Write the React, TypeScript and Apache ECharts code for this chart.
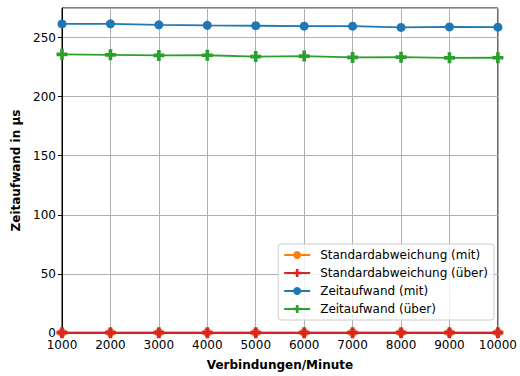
import React, { useEffect, useRef } from "react";
import * as echarts from "echarts";

const categories = [1000, 2000, 3000, 4000, 5000, 6000, 7000, 8000, 9000, 10000];
const zeitMit = [261.5, 261.6, 260.8, 260.3, 260.0, 259.6, 259.6, 258.6, 259.0, 258.8];
const zeitUeber = [235.8, 235.4, 234.9, 235.0, 233.9, 234.3, 233.2, 233.4, 232.8, 232.9];
const stdMit = [0.4, 0.4, 0.4, 0.4, 0.4, 0.4, 0.4, 0.4, 0.4, 0.4];
const stdUeber = [0.3, 0.3, 0.3, 0.3, 0.3, 0.3, 0.3, 0.3, 0.3, 0.3];

const PLUS = "path://M-1,-3H1V-1H3V1H1V3H-1V1H-3V-1H-1Z";
const FONT = "DejaVu Sans";

function pairs(vals: number[]) {
  return categories.map((c, i) => [c, vals[i]]);
}

function errorSeries(vals: number[], errs: number[], color: string) {
  return {
    type: "custom",
    silent: true,
    z: 3,
    data: categories.map((c, i) => [c, vals[i] - errs[i], vals[i] + errs[i]]),
    renderItem: (params: any, api: any) => {
      const lo = api.coord([api.value(0), api.value(1)]);
      const hi = api.coord([api.value(0), api.value(2)]);
      const w = 3;
      const style = { stroke: color, lineWidth: 1.5 };
      return {
        type: "group",
        children: [
          { type: "line", shape: { x1: lo[0], y1: lo[1], x2: hi[0], y2: hi[1] }, style },
          { type: "line", shape: { x1: lo[0] - w, y1: lo[1], x2: lo[0] + w, y2: lo[1] }, style },
          { type: "line", shape: { x1: hi[0] - w, y1: hi[1], x2: hi[0] + w, y2: hi[1] }, style },
        ],
      };
    },
  };
}

export default function App() {
  const ref = useRef<HTMLDivElement>(null);
  useEffect(() => {
    const chart = echarts.init(ref.current!, undefined, { renderer: "svg" });
    const lineSeries = (name: string, vals: number[], color: string, symbol: string, size: number, z: number) => ({
      name,
      type: "line",
      data: pairs(vals),
      symbol,
      symbolSize: size,
      z,
      lineStyle: { color, width: 1.8 },
      itemStyle: { color },
      emphasis: { disabled: true },
    });
    chart.setOption({
      animation: false,
      backgroundColor: "#fff",
      textStyle: { fontFamily: FONT },
      grid: { left: 62, right: 20, top: 8, bottom: 40, show: true, borderColor: "#000", borderWidth: 1, backgroundColor: "transparent" },
      xAxis: {
        type: "value",
        min: 1000,
        max: 10000,
        interval: 1000,
        name: "Verbindungen/Minute",
        nameLocation: "middle",
        nameGap: 26,
        nameTextStyle: { fontFamily: FONT, fontSize: 12, fontWeight: "bold", color: "#000" },
        axisLine: { show: true, onZero: false, lineStyle: { color: "#000", width: 1 } },
        axisTick: { show: true, length: 4, lineStyle: { color: "#000" } },
        axisLabel: { fontFamily: FONT, fontSize: 12, color: "#000", margin: 6, formatter: (v: number) => String(v) },
        splitLine: { show: true, lineStyle: { color: "#b0b0b0", width: 1 } },
      },
      yAxis: {
        type: "value",
        min: 0,
        max: 275,
        interval: 50,
        name: "Zeitaufwand in µs",
        nameLocation: "middle",
        nameGap: 38,
        nameTextStyle: { fontFamily: FONT, fontSize: 12, fontWeight: "bold", color: "#000" },
        axisLine: { show: true, lineStyle: { color: "#000", width: 1 } },
        axisTick: { show: true, length: 4, lineStyle: { color: "#000" } },
        axisLabel: { fontFamily: FONT, fontSize: 12, color: "#000", margin: 6, showMaxLabel: false },
        splitLine: { show: true, lineStyle: { color: "#b0b0b0", width: 1 } },
      },
      legend: {
        orient: "vertical",
        right: 26,
        bottom: 56,
        itemWidth: 26,
        itemHeight: 10,
        itemGap: 6,
        padding: [5, 6, 5, 5],
        backgroundColor: "rgba(255,255,255,0.8)",
        borderColor: "#cccccc",
        borderWidth: 1,
        borderRadius: 3,
        textStyle: { fontFamily: FONT, fontSize: 12, color: "#000", padding: [0, 0, 0, 5] },
        data: ["Standardabweichung (mit)", "Standardabweichung (über)", "Zeitaufwand (mit)", "Zeitaufwand (über)"],
      },
      series: [
        lineSeries("Zeitaufwand (mit)", zeitMit, "#1f77b4", "circle", 9, 4),
        errorSeries(zeitMit, stdMit, "#1f77b4"),
        lineSeries("Zeitaufwand (über)", zeitUeber, "#2ca02c", PLUS, 11, 4),
        errorSeries(zeitUeber, stdUeber, "#2ca02c"),
        lineSeries("Standardabweichung (mit)", stdMit, "#ff7f0e", "circle", 9, 5),
        lineSeries("Standardabweichung (über)", stdUeber, "#d62728", PLUS, 11, 6),
      ],
    });
    return () => chart.dispose();
  }, []);
  return <div ref={ref} style={{ width: 520, height: 376, position: "absolute", left: 0, top: 0 }} />;
}
